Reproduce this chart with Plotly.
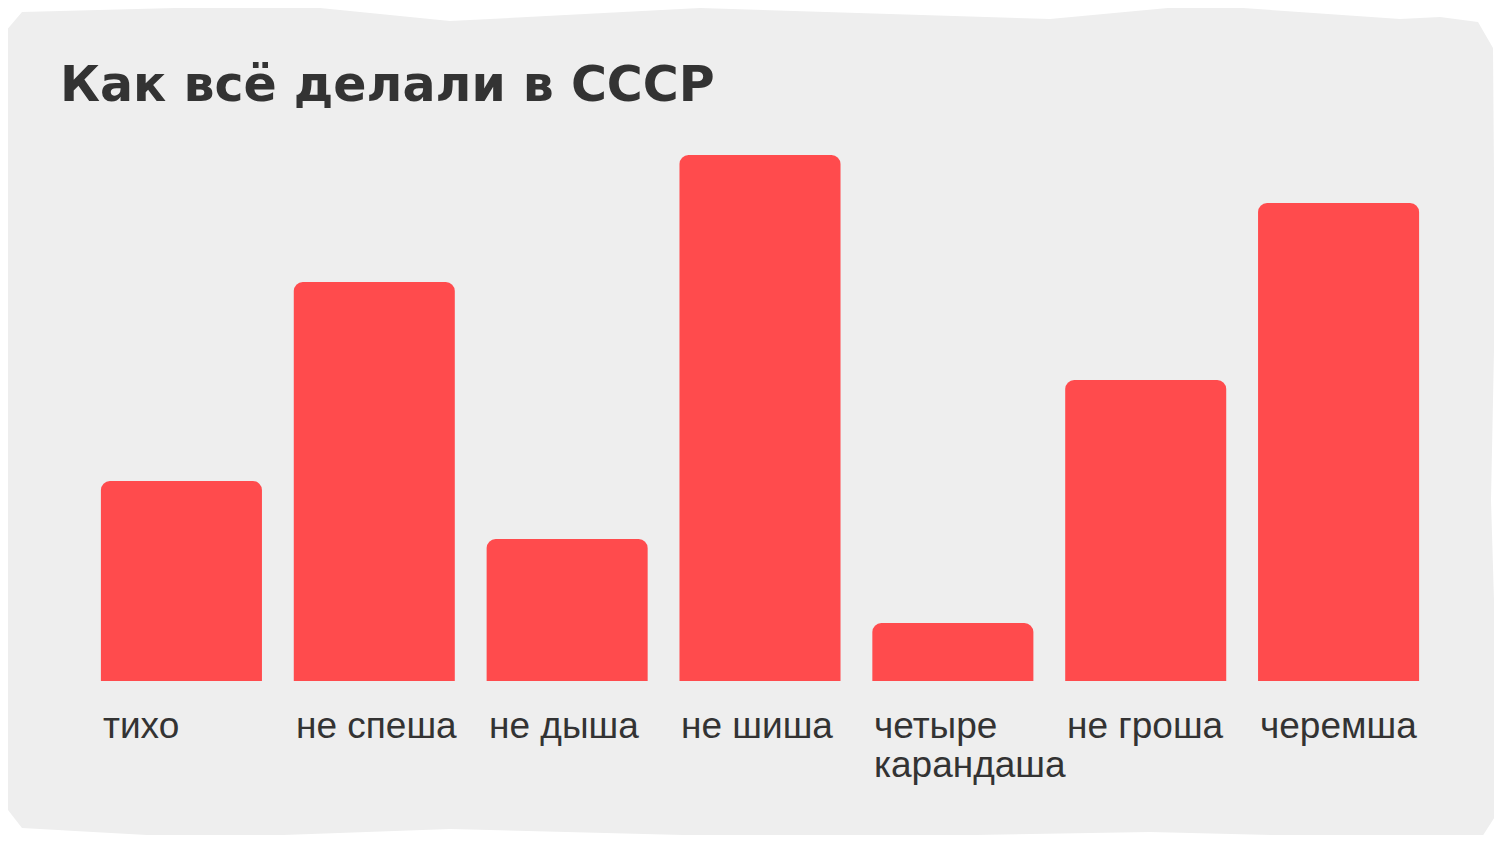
import plotly.graph_objects as go

# ---- data ----
categories = ["тихо", "не спеша", "не дыша", "не шиша", "четыре карандаша", "не гроша", "черемша"]
label_lines = [["тихо"], ["не спеша"], ["не дыша"], ["не шиша"], ["четыре", "карандаша"], ["не гроша"], ["черемша"]]
values = [200, 399, 142, 526, 58, 301, 478]
title_text = "Как всё делали в СССР"

# ---- geometry (target screen pixels; the page adds an 8px body margin) ----
OFF = 8
W, H = 1502 - 2 * OFF, 843 - 2 * OFF
L, R = 85 - OFF, 1435 - OFF          # plot area x in figure px
TOP, BOT = 155 - OFF, 681 - OFF      # plot area y in figure px
BAR_GAP = 0.165
YMAX = 526

def px(x):
    return (x - OFF - L) / (R - L)

def py(y):
    return (BOT - (y - OFF)) / (BOT - TOP)

RED = "#FF4B4D"
TEXT = "#333333"

fig = go.Figure()
fig.add_trace(go.Bar(
    x=list(range(len(categories))),
    y=values,
    marker=dict(color=RED, line=dict(width=0), cornerradius=9),
    hoverinfo="skip",
))

# rough grey background shape (screen pixel points -> paper coords)
pts = [
    (22, 12), (290, 5), (450, 21), (700, 8), (1050, 19), (1200, 5), (1400, 19), (1440, 17),
    (1478, 22), (1493, 48),
    (1495, 300), (1491, 500), (1497, 700), (1496, 815), (1480, 840),
    (1150, 832), (800, 838), (450, 829), (200, 838), (22, 828),
    (8, 810), (4, 600), (2, 300), (8, 100), (5, 32),
]
path = "M {} {}".format(px(pts[0][0]), py(pts[0][1]))
for (x, y) in pts[1:]:
    path += " L {} {}".format(px(x), py(y))
path += " Z"

fig.add_shape(type="path", path=path, xref="paper", yref="paper",
              fillcolor="#EEEEEE", line=dict(width=0), layer="below")

# title
fig.add_annotation(text=title_text, xref="paper", yref="paper",
                   x=px(58), y=py(84), xanchor="left", yanchor="middle",
                   showarrow=False,
                   font=dict(family="DejaVu Sans", size=49, color=TEXT, weight="bold"))

# category labels, left aligned to the bar's left edge
half = (1 - BAR_GAP) / 2
for i, lines in enumerate(label_lines):
    for j, line in enumerate(lines):
        fig.add_annotation(text=line, x=i - half, xref="x", yref="paper",
                           y=py(725 + 39 * j), xanchor="left", yanchor="middle",
                           showarrow=False, xshift=0,
                           font=dict(family="Liberation Sans, Arial, sans-serif", size=37, color=TEXT))

fig.update_layout(
    width=W, height=H,
    margin=dict(l=L, r=W - R, t=TOP, b=H - BOT, pad=0),
    paper_bgcolor="white",
    plot_bgcolor="rgba(0,0,0,0)",
    bargap=BAR_GAP,
    showlegend=False,
    xaxis=dict(type="linear", range=[-0.5, len(categories) - 0.5], visible=False, fixedrange=True),
    yaxis=dict(range=[0, YMAX], visible=False, fixedrange=True),
)

fig.write_html("out.html", config={"displayModeBar": False})
